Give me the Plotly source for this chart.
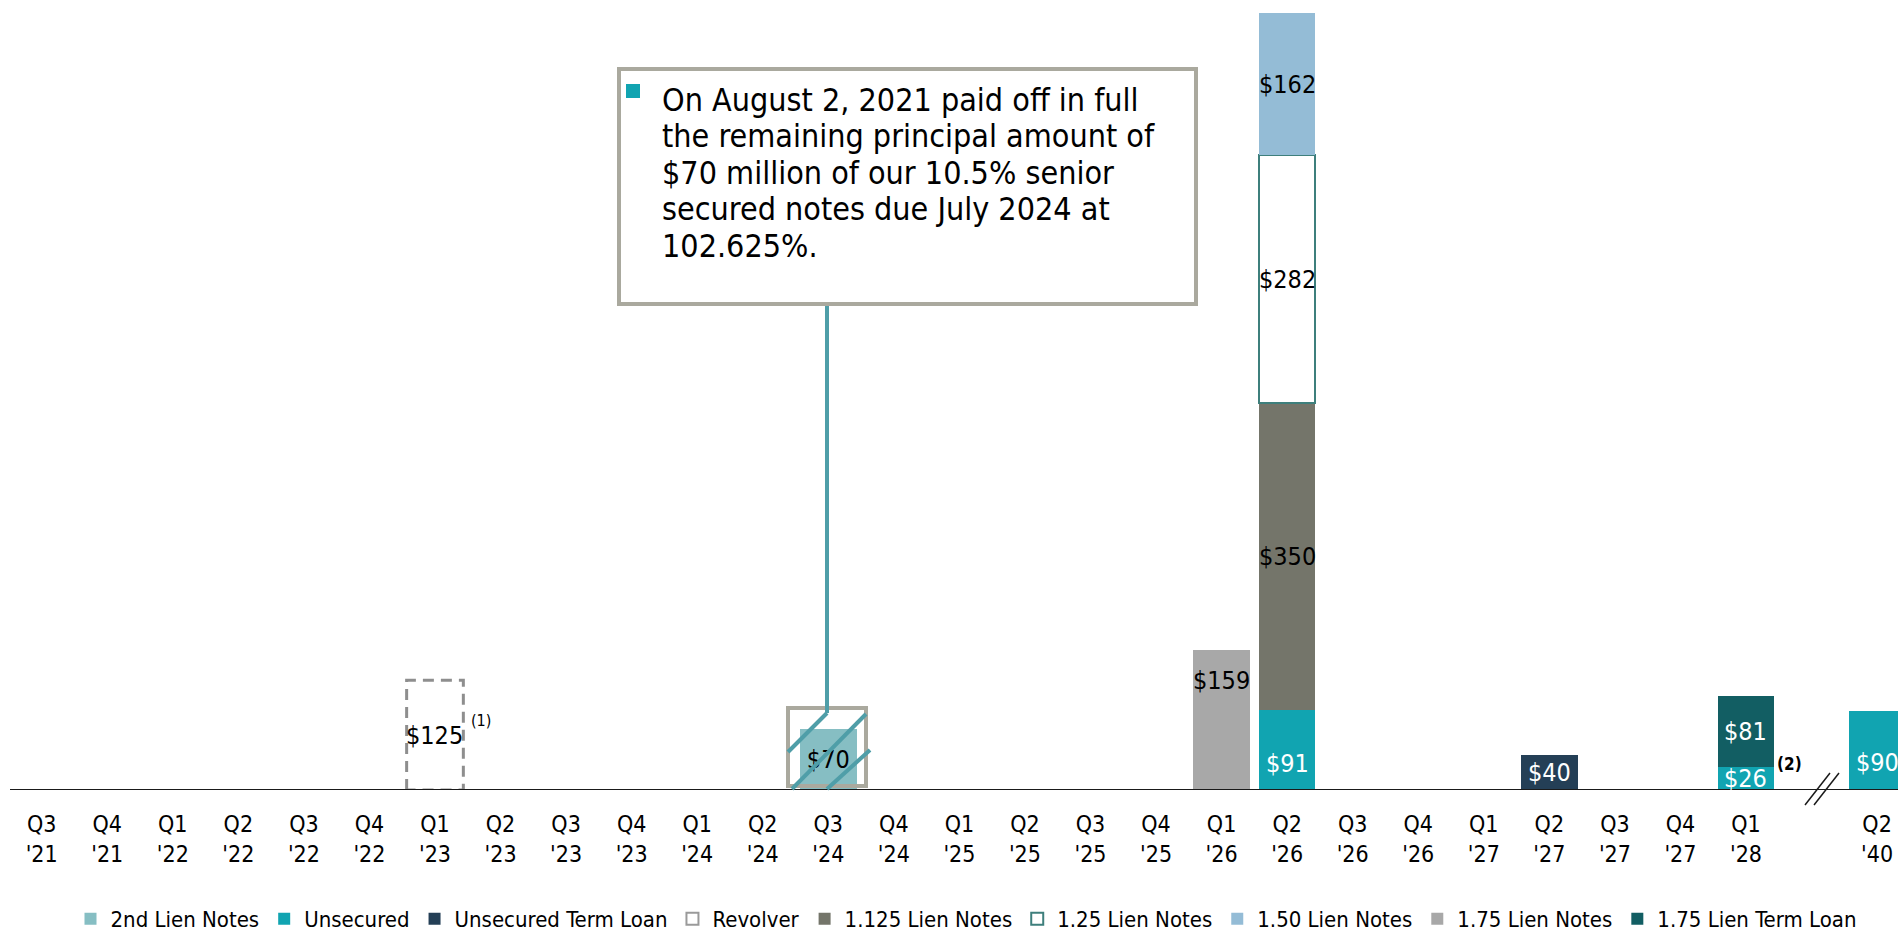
import plotly.graph_objects as go

# ---------------------------------------------------------------- data ($M)
QUARTERS = [
    "Q3 '21", "Q4 '21", "Q1 '22", "Q2 '22", "Q3 '22", "Q4 '22", "Q1 '23",
    "Q2 '23", "Q3 '23", "Q4 '23", "Q1 '24", "Q2 '24", "Q3 '24", "Q4 '24",
    "Q1 '25", "Q2 '25", "Q3 '25", "Q4 '25", "Q1 '26", "Q2 '26", "Q3 '26",
    "Q4 '26", "Q1 '27", "Q2 '27", "Q3 '27", "Q4 '27", "Q1 '28", "Q2 '40",
]

SECOND_LIEN_NOTES = {"Q3 '24": 70}
UNSECURED = {"Q2 '26": 91, "Q1 '28": 26, "Q2 '40": 90}
UNSECURED_TERM_LOAN = {"Q2 '27": 40}
REVOLVER = {"Q1 '23": 125}
LIEN_1125_NOTES = {"Q2 '26": 350}
LIEN_125_NOTES = {"Q2 '26": 282}
LIEN_150_NOTES = {"Q2 '26": 162}
LIEN_175_NOTES = {"Q1 '26": 159}
LIEN_175_TERM_LOAN = {"Q1 '28": 81}

CALLOUT_LINES = [
    "On August 2, 2021 paid off in full",
    "the remaining principal amount of",
    "$70 million of our 10.5% senior",
    "secured notes due July 2024 at",
    "102.625%.",
]

# ---------------------------------------------------------------- styling
FONT = "DejaVu Sans Condensed, DejaVu Sans, Liberation Sans, sans-serif"
W, H = 1898, 933
PLOT_H = 790                      # plot area height in px (baseline at bottom)
X_RANGE = [-0.636, 28.319]
Y_RANGE = [0, 899.8]
BAR_W = 0.865
TEAL_LINE = "#4F9EA8"
BOX_GREY = "#AAA99E"

# (name, values, fill, outline, label colour)
SERIES = [
    ("2nd Lien Notes", SECOND_LIEN_NOTES, "#86BEC3", None, "black"),
    ("Unsecured", UNSECURED, "#11A4B1", None, "white"),
    ("Unsecured Term Loan", UNSECURED_TERM_LOAN, "#243F56", None, "white"),
    ("Revolver", REVOLVER, None, "#8E8E8E", "black"),
    ("1.125 Lien Notes", LIEN_1125_NOTES, "#74756A", None, "black"),
    ("1.25 Lien Notes", LIEN_125_NOTES, "#FFFFFF", "#3E7F7C", "black"),
    ("1.50 Lien Notes", LIEN_150_NOTES, "#94BCD6", None, "black"),
    ("1.75 Lien Notes", LIEN_175_NOTES, "#A8A8A8", None, "black"),
    ("1.75 Lien Term Loan", LIEN_175_TERM_LOAN, "#125E63", None, "white"),
]

# label nudges in px (positive = up)
LABEL_NUDGE = {
    ("Unsecured", "Q2 '26"): -13,
    ("Unsecured", "Q2 '40"): -12,
    ("1.75 Lien Notes", "Q1 '26"): 40,
}

# the last maturity sits after an axis break, one slot further right
POS = {q: (i if i < len(QUARTERS) - 1 else i + 1) for i, q in enumerate(QUARTERS)}


def px(x):
    return x / W


def py(y):
    return 1 - y / PLOT_H


fig = go.Figure()
annotations = []
shapes = []
stack_base = {q: 0 for q in QUARTERS}

for name, vals, fill, outline, txt_col in SERIES:
    xs = [POS[q] for q in vals]
    ys = list(vals.values())
    if name == "Revolver":
        # dashed outline for the undrawn revolver
        for q, v in vals.items():
            x0, x1 = POS[q] - BAR_W / 2, POS[q] + BAR_W / 2
            b = stack_base[q]
            fig.add_trace(go.Scatter(
                x=[x0, x0, x1, x1, x0], y=[b, b + v, b + v, b, b],
                mode="lines", line=dict(color=outline, width=3, dash="11px,7px"),
                showlegend=False, hoverinfo="skip"))
        # legend entry
        fig.add_trace(go.Bar(
            x=[None], y=[None], name=name, width=BAR_W,
            marker=dict(color="rgba(255,255,255,0)",
                        line=dict(color="#9A9A9A", width=2))))
    else:
        marker = dict(color=fill)
        if outline:
            marker["line"] = dict(color=outline, width=2)
        else:
            marker["line"] = dict(width=0)
        if name == "2nd Lien Notes":
            kw = dict(text=[f"${v}" for v in ys], textposition="inside",
                      insidetextanchor="middle", constraintext="none",
                      textfont=dict(family=FONT, size=25, color=txt_col))
        else:
            kw = dict(textposition="none")
        fig.add_trace(go.Bar(x=xs, y=ys, name=name, width=BAR_W,
                             marker=marker, **kw))

    if name != "2nd Lien Notes":
        for q, v in vals.items():
            annotations.append(dict(
                x=POS[q], y=stack_base[q] + v / 2, xref="x", yref="y",
                text=f"${v}", showarrow=False,
                yshift=LABEL_NUDGE.get((name, q), 0),
                font=dict(family=FONT, size=25, color=txt_col)))
    for q, v in vals.items():
        stack_base[q] += v

# footnote markers
annotations.append(dict(x=px(469), y=py(720), xref="paper", yref="paper",
                        xanchor="left", yanchor="middle", text="(1)",
                        showarrow=False, font=dict(family=FONT, size=16, color="black")))
annotations.append(dict(x=px(1775), y=py(764), xref="paper", yref="paper",
                        xanchor="left", yanchor="middle", text="<b>(2)</b>",
                        showarrow=False, font=dict(family=FONT, size=17, color="black")))

# callout text
for k, line in enumerate(CALLOUT_LINES):
    annotations.append(dict(x=px(660), y=py(100 + k * 36.4), xref="paper", yref="paper",
                            xanchor="left", yanchor="middle", text=line,
                            showarrow=False,
                            font=dict(family=FONT, size=32, color="black")))

# baseline
shapes.append(dict(type="line", xref="paper", yref="y", x0=px(10), x1=1, y0=0, y1=0,
                   line=dict(color="#1A1A1A", width=2), layer="above"))

# axis break marks
for dx in (0, 9):
    shapes.append(dict(type="line", xref="paper", yref="paper",
                       x0=px(1805 + dx), y0=py(805), x1=px(1830 + dx), y1=py(773),
                       line=dict(color="#1A1A1A", width=1.5), layer="above"))

# callout box and bullet
shapes.append(dict(type="rect", xref="paper", yref="paper",
                   x0=px(619), x1=px(1196), y0=py(69), y1=py(304),
                   line=dict(color=BOX_GREY, width=4), fillcolor="white", layer="above"))
shapes.append(dict(type="rect", xref="paper", yref="paper",
                   x0=px(626), x1=px(640), y0=py(84), y1=py(98),
                   line=dict(width=0), fillcolor="#11A4B1", layer="above"))

# frame around the repaid notes, leader line and strike-through
shapes.append(dict(type="rect", xref="paper", yref="paper",
                   x0=px(788), x1=px(866), y0=py(708), y1=py(786),
                   line=dict(color=BOX_GREY, width=4), layer="above"))
for (ax, ay, bx, by) in [(827, 306, 827, 713), (827, 713, 788, 752),
                         (866, 714, 792, 789), (870, 750, 827, 789)]:
    shapes.append(dict(type="line", xref="paper", yref="paper",
                       x0=px(ax), y0=py(ay), x1=px(bx), y1=py(by),
                       line=dict(color=TEAL_LINE, width=4), layer="above"))

tickvals = [POS[q] for q in QUARTERS]
ticktext = [q.replace(" ", "<br>") for q in QUARTERS]

fig.update_layout(
    width=W, height=H,
    margin=dict(l=0, r=0, t=0, b=H - PLOT_H, pad=0, autoexpand=False),
    paper_bgcolor="white", plot_bgcolor="white",
    barmode="stack",
    font=dict(family=FONT, color="black"),
    xaxis=dict(range=X_RANGE, tickmode="array", tickvals=tickvals, ticktext=ticktext,
               showgrid=False, zeroline=False, showline=False, ticks="",
               automargin=False, ticklabelstandoff=18,
               tickfont=dict(family=FONT, size=23, color="black")),
    yaxis=dict(range=Y_RANGE, visible=False, showgrid=False, zeroline=False,
               automargin=False),
    legend=dict(orientation="h", x=px(966), xanchor="center", y=py(919),
                yanchor="middle", traceorder="normal", itemwidth=30,
                font=dict(family=FONT, size=22, color="black"),
                bgcolor="rgba(0,0,0,0)"),
    annotations=annotations,
    shapes=shapes,
    showlegend=True,
    hovermode=False,
)

fig.write_html("out.html")
